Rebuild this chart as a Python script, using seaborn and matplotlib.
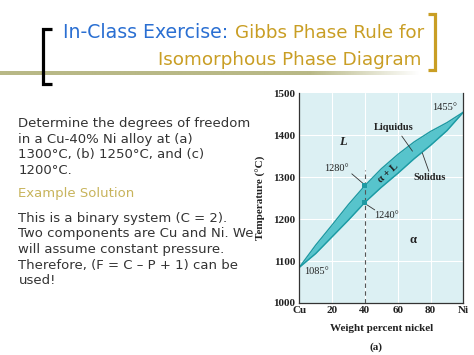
import matplotlib
matplotlib.use('Agg')
import matplotlib.pyplot as plt
import seaborn as sns
import numpy as np
from matplotlib.colors import to_rgb
from matplotlib.transforms import Bbox

# Phase diagram data
ni_pct = [0, 10, 20, 30, 40, 50, 60, 70, 80, 90, 100]
liquidus = [1085, 1138, 1186, 1235, 1280, 1320, 1354, 1384, 1409, 1430, 1455]
solidus = [1085, 1118, 1158, 1198, 1240, 1276, 1309, 1344, 1376, 1411, 1455]
alloy_pct = 40
alloy_temps = [1280, 1240]
x_ticks = [0, 20, 40, 60, 80, 100]
x_tick_labels = ['Cu', '20', '40', '60', '80', 'Ni']
y_ticks = [1000, 1100, 1200, 1300, 1400, 1500]

title_blue = 'In-Class Exercise:'
title_gold = 'Gibbs Phase Rule for'
title_line2 = 'Isomorphous Phase Diagram'
body_lines = ['Determine the degrees of freedom',
              'in a Cu-40% Ni alloy at (a)',
              '1300°C, (b) 1250°C, and (c)',
              '1200°C.']
solution_head = 'Example Solution'
solution_lines = ['This is a binary system (C = 2).',
                  'Two components are Cu and Ni. We',
                  'will assume constant pressure.',
                  'Therefore, (F = C \u2013 P + 1) can be',
                  'used!']

BLUE = '#2a6fd2'
GOLD = '#c99e24'
TEXT = '#333333'
SERIF = 'Liberation Serif'

sns.set_theme(style='white')
plt.rcParams['font.family'] = ['DejaVu Sans']

fig = plt.figure(figsize=(4.74, 3.55), dpi=100)
fig.patch.set_facecolor('white')

# background layer in pixel coordinates
bg = fig.add_axes([0, 0, 1, 1], zorder=0)
bg.axis('off')

# olive rule fading to the right
n = 300
grad = np.ones((1, n, 4))
grad[..., :3] = to_rgb('#b8b886')
xs = np.linspace(0, 430, n)
grad[0, :, 3] = np.clip((420 - xs) / 110, 0, 1)
bg.imshow(grad, extent=(0, 430, 75.5, 71.5), aspect='auto', interpolation='bilinear')
bg.set_xlim(0, 474)
bg.set_ylim(355, 0)

# brackets
bg.plot([52, 43.5, 43.5, 52], [28.5, 28.5, 84, 84], color='black', lw=2.3,
        solid_joinstyle='miter', solid_capstyle='butt')
bg.plot([428, 435, 435, 428], [13.5, 13.5, 70, 70], color=GOLD, lw=2.3,
        solid_joinstyle='miter', solid_capstyle='butt')

# title
renderer = fig.canvas.get_renderer()
t_gold = bg.text(424, 38.3, title_gold, ha='right', va='baseline', color=GOLD, fontsize=13.2)
bb = t_gold.get_window_extent(renderer)
bg.text(bb.x0 - 6, 38.3, title_blue, ha='right', va='baseline', color=BLUE, fontsize=13.6)
bg.text(422, 65, title_line2, ha='right', va='baseline', color=GOLD, fontsize=13.2)

# body text, clipped where the diagram image starts
clip = Bbox([[0, 0], [266, 355]])
def body_text(y, s, color=TEXT):
    t = bg.text(18.5, y, s, ha='left', va='baseline', color=color, fontsize=9.5)
    t.set_clip_on(True)
    t.set_clip_box(clip)

for i, s in enumerate(body_lines):
    body_text(127.3 + i * 15.4, s)
body_text(197.3, solution_head, color='#c8b45c')
for i, s in enumerate(solution_lines):
    body_text(221.7 + i * 15.6, s)

# phase diagram
ax = fig.add_axes([299.3 / 474, 1 - 303 / 355, 164 / 474, 209.7 / 355], zorder=2)
ax.set_facecolor('#dcf0f3')
for x in x_ticks[1:-1]:
    ax.axvline(x, color='white', lw=0.8, zorder=0)
for y in y_ticks[1:-1]:
    ax.axhline(y, color='white', lw=0.8, zorder=0)

ax.fill_between(ni_pct, solidus, liquidus, color='#57c4cc', lw=0, zorder=1)
sns.lineplot(x=ni_pct, y=liquidus, ax=ax, color='#1d9aa3', lw=1.0, zorder=2)
sns.lineplot(x=ni_pct, y=solidus, ax=ax, color='#1d9aa3', lw=1.0, zorder=2)
ax.plot([alloy_pct, alloy_pct], [1000, 1318], ls=(0, (4, 3)), color='#555555', lw=0.8, zorder=3)
sns.scatterplot(x=[alloy_pct] * len(alloy_temps), y=alloy_temps, ax=ax, marker='s', s=14,
                color='#1f9aa3', edgecolor='none', zorder=4)

ann = dict(family=SERIF, color='#222222', fontsize=7.5)
lead = dict(color='#333333', lw=0.6)
ax.text(22.8, 1320, '1280°', ha='center', va='center', **ann)
ax.plot([32, 39.5], [1308, 1283], **lead)
ax.text(53.3, 1209, '1240°', ha='center', va='center', **ann)
ax.plot([40.5, 46], [1236, 1222], **lead)
ax.text(88.8, 1465, '1455°', ha='center', va='center', **ann)
ax.text(10.6, 1075, '1085°', ha='center', va='center', **ann)
ax.text(57.4, 1418, 'Liquidus', ha='center', va='center', fontweight='bold', **ann)
ax.plot([62.5, 69], [1398, 1362], **lead)
ax.text(79.7, 1300, 'Solidus', ha='center', va='center', fontweight='bold', **ann)
ax.plot([75, 79], [1358, 1314], **lead)
ax.text(26.5, 1383, 'L', ha='center', va='center', fontsize=9, fontstyle='italic',
        fontweight='bold', family=SERIF, color='#222222')
ax.text(54.3, 1310, 'α + L', ha='center', va='center', rotation=42, fontsize=7.5,
        fontweight='bold', family=SERIF, color='#222222')
ax.text(69.5, 1150, 'α', ha='center', va='center', fontsize=9, fontweight='bold',
        family=SERIF, color='#222222')

ax.set_xlim(0, 100)
ax.set_ylim(1000, 1500)
ax.set_xticks(x_ticks)
ax.set_xticklabels(x_tick_labels)
ax.set_yticks(y_ticks)
ax.tick_params(direction='in', length=3, width=0.8, colors='#333333', labelsize=8,
               labelcolor='#222222')
ax.tick_params(axis='x', pad=2)
ax.tick_params(axis='y', pad=3)
for lab in ax.get_xticklabels() + ax.get_yticklabels():
    lab.set_fontfamily(SERIF)
    lab.set_fontweight('bold')
for side in ['left', 'bottom', 'right']:
    ax.spines[side].set_color('#333333')
    ax.spines[side].set_linewidth(0.9)
ax.spines['top'].set_visible(False)

ax.set_ylabel('Temperature (°C)', family=SERIF, fontweight='bold', fontsize=8,
              color='#222222', va='center')
ax.yaxis.set_label_coords(-0.234, 0.5)
ax.set_xlabel('Weight percent nickel', family=SERIF, fontweight='bold', fontsize=8,
              color='#222222', va='center')
ax.xaxis.set_label_coords(0.5, -(328.3 - 303) / 209.7)
ax.text(0.465, -(346.7 - 303) / 209.7, '(a)', transform=ax.transAxes, ha='center',
        va='center', family=SERIF, fontweight='bold', fontsize=8, color='#222222')

fig.savefig('out.png', dpi=100)
